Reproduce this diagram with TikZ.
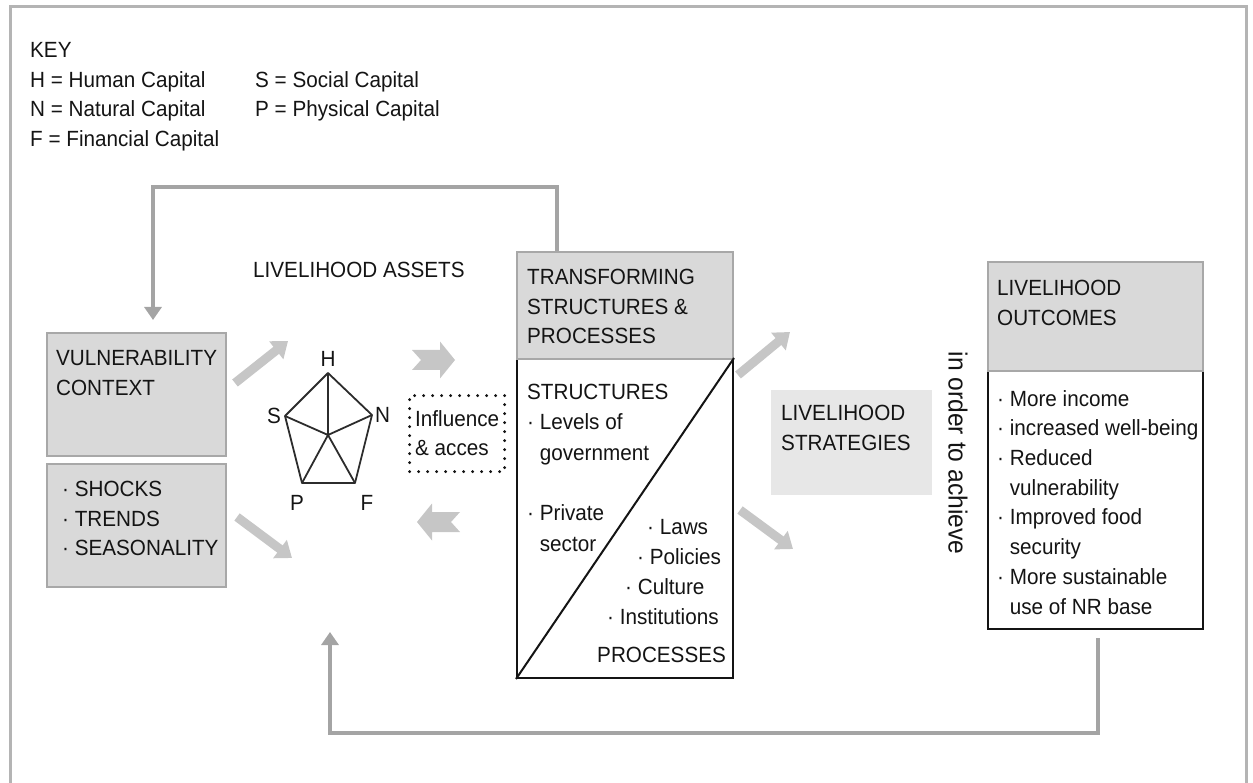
\documentclass[tikz,border=0pt]{standalone}
\usepackage{fontspec}
\setmainfont{Liberation Sans}[FakeStretch=0.94]
\usepackage{tikz}
\usetikzlibrary{positioning, arrows.meta}

\definecolor{ink}{HTML}{141414}
\definecolor{boxfill}{HTML}{D9D9D9}
\definecolor{boxline}{HTML}{A8A8A8}
\definecolor{stratfill}{HTML}{E7E7E7}
\definecolor{arrowgray}{HTML}{C6C6C6}
\definecolor{linegray}{HTML}{A4A4A4}
\definecolor{framegray}{HTML}{B4B4B4}

\newcommand{\bul}{·\ }
\newcommand{\ind}{\hphantom{·\ }}

\begin{document}
\begin{tikzpicture}[x=1pt, y=-1pt,
	txt/.style={font=\fontsize{22}{29.7}\selectfont, text=ink, inner sep=0pt, align=left},
	graybox/.style={draw=boxline, fill=boxfill, line width=2pt, inner sep=0pt, anchor=north west},
	whitebox/.style={draw=ink, fill=white, line width=2pt, inner sep=0pt, anchor=north west},
	dotbox/.style={draw=ink, line width=3.2pt, dash pattern=on 0pt off 9pt, line cap=round, inner sep=0pt, anchor=north west},
	spoke/.style={draw=ink!90, line width=1.8pt, line join=round},
	fatarrow/.style={draw=arrowgray, line width=9pt, -{Triangle[width=22pt,length=15pt]}},
	feedback/.style={draw=linegray, line width=3.5pt, -{Triangle[width=17pt,length=13pt]}},
	chevron/.pic={\fill[arrowgray] (0,-10) -- (28,-10) -- (28,-18.5) -- (43,0) -- (28,18.5) -- (28,10) -- (0,10) -- (9,0) -- cycle;}]

	\useasboundingbox (0,0) rectangle (1253,783);
	\draw[framegray, line width=3pt] (10,783) -- (10,7) -- (1246,7) -- (1246,783);

	% key
	\node[txt, anchor=north west] (key) at (30,42) {KEY\\H = Human Capital\\N = Natural Capital\\F = Financial Capital};
	\node[txt, anchor=north west] (keyb) at (255,71) {S = Social Capital\\P = Physical Capital};

	% vulnerability
	\node[graybox, minimum width=179pt, minimum height=123pt] (vulbox) at (46,332) {};
	\node[txt, anchor=north west] (vultxt) at ([shift={(10,18)}]vulbox.north west) {VULNERABILITY\\CONTEXT};
	\node[graybox, minimum width=179pt, minimum height=123pt] (shockbox) at (46,463) {};
	\node[txt, anchor=north west] (shocktxt) at ([shift={(16,18)}]shockbox.north west) {\bul SHOCKS\\\bul TRENDS\\\bul SEASONALITY};

	% assets pentagon
	\node[txt, anchor=west] (assets) at (253,270) {LIVELIHOOD ASSETS};
	\coordinate (vH) at (328,373);
	\coordinate (vN) at (372,415);
	\coordinate (vF) at (355,483);
	\coordinate (vP) at (302,483);
	\coordinate (vS) at (285,416);
	\coordinate (vC) at (328,435);
	\draw[spoke] (vH) -- (vN) -- (vF) -- (vP) -- (vS) -- cycle;
	\draw[spoke] (vC) -- (vH) (vC) -- (vN) (vC) -- (vF) (vC) -- (vP) (vC) -- (vS);
	\node[txt, above=6pt of vH] (lH) {H};
	\node[txt, left=4pt of vS] (lS) {S};
	\node[txt, right=3pt of vN] (lN) {N};
	\node[txt] (lP) at (297,503) {P};
	\node[txt] (lF) at (367,503) {F};

	\node[dotbox, minimum width=95pt, minimum height=76pt] (infl) at (408,394) {};
	\node[txt, anchor=north west] (infltxt) at ([shift={(7,16)}]infl.north west) {Influence\\\& acces};

	% transforming structures
	\node[whitebox, minimum width=216pt, minimum height=319pt] (tspbody) at (516,358) {};
	\node[graybox, minimum width=216pt, minimum height=107pt] (tsphead) at (516,251) {};
	\node[txt, anchor=north west] (tsptxt) at ([shift={(11,18)}]tsphead.north west) {TRANSFORMING\\STRUCTURES \&\\PROCESSES};
	\draw[ink, line width=2pt] (tspbody.south west) -- (tspbody.north east);
	\node[txt, font=\fontsize{22}{30.3}\selectfont, anchor=north west] (structs) at ([shift={(11,26)}]tspbody.north west) {STRUCTURES\\\bul Levels of\\\ind government\\[30.3pt]\bul Private\\\ind sector};
	\node[txt, anchor=west] (laws) at (647,527) {\bul Laws};
	\node[txt, anchor=west] (policies) at (637,557) {\bul Policies};
	\node[txt, anchor=west] (culture) at (625,587) {\bul Culture};
	\node[txt, anchor=west] (instit) at (607,617) {\bul Institutions};
	\node[txt, anchor=west] (procs) at (597,655) {PROCESSES};

	% strategies
	\node[fill=stratfill, minimum width=161pt, minimum height=105pt, inner sep=0pt, anchor=north west] (strat) at (771,390) {};
	\node[txt, anchor=north west] (strattxt) at ([shift={(10,15)}]strat.north west) {LIVELIHOOD\\STRATEGIES};
	\node[txt, font=\fontsize{26.2}{30}\selectfont, rotate=-90] (achieve) at (958,453) {in order to achieve};

	% outcomes
	\node[whitebox, minimum width=215pt, minimum height=258pt] (outbody) at (987,370) {};
	\node[graybox, minimum width=215pt, minimum height=109pt] (outhead) at (987,261) {};
	\node[txt, anchor=north west] (outtxt) at ([shift={(10,19)}]outhead.north west) {LIVELIHOOD\\OUTCOMES};
	\node[txt, anchor=north west] (outlist) at ([shift={(10,20)}]outbody.north west) {\bul More income\\\bul increased well-being\\\bul Reduced\\\ind vulnerability\\\bul Improved food\\\ind security\\\bul More sustainable\\\ind use of NR base};

	% broad arrows
	\coordinate (vaS) at (235,383);
	\coordinate (vaE) at (288,341);
	\coordinate (saS) at (237,517);
	\coordinate (saE) at (292,558);
	\coordinate (tuS) at (738,375);
	\coordinate (tuE) at (790,332);
	\coordinate (tdS) at (740,510);
	\coordinate (tdE) at (793,549);
	\draw[fatarrow] (vaS) -- (vaE);
	\draw[fatarrow] (saS) -- (saE);
	\draw[fatarrow] (tuS) -- (tuE);
	\draw[fatarrow] (tdS) -- (tdE);
	\pic at (412,360) {chevron};
	\pic[xscale=-1] at (460,522) {chevron};

	% feedback loops
	\coordinate (topR) at (557,187);
	\coordinate (topL) at (153,187);
	\draw[feedback, shorten >=12pt] (topR |- tsphead.north) -- (topR) -- (topL) -- (topL |- vulbox.north);
	\coordinate (botR) at (1098,733);
	\coordinate (botL) at (330,733);
	\coordinate (backin) at (330,632);
	\draw[feedback, shorten <=8pt] (botR |- outbody.south) -- (botR) -- (botL) -- (backin);
\end{tikzpicture}
\end{document}
